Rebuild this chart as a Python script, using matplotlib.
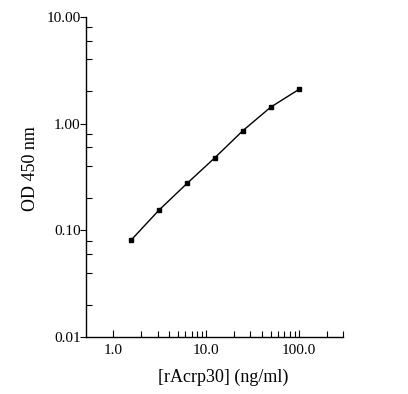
import matplotlib
matplotlib.use('Agg')
import matplotlib.pyplot as plt
from matplotlib.ticker import FixedLocator, FixedFormatter, NullFormatter
import numpy as np

# standard curve data
conc = [1.5625, 3.125, 6.25, 12.5, 25, 50, 100]   # ng/ml
od = [0.081, 0.155, 0.275, 0.48, 0.86, 1.43, 2.09]  # OD 450 nm

x_major = [1.0, 10.0, 100.0]
x_major_labels = ['1.0', '10.0', '100.0']
y_major = [0.01, 0.1, 1.0, 10.0]
y_major_labels = ['0.01', '0.10', '1.00', '10.00']

plt.rcParams['font.family'] = ['Liberation Serif', 'DejaVu Serif']

fig = plt.figure(figsize=(4.08, 3.94), dpi=100)
ax = fig.add_axes([0.211, 0.145, 0.630, 0.812])

ax.plot(conc, od, color='black', linewidth=1.0, marker='s', markersize=3.2,
        markerfacecolor='black', markeredgecolor='black')

ax.set_xscale('log')
ax.set_yscale('log')
ax.set_xlim(0.51, 300)
ax.set_ylim(0.01, 10)

ax.xaxis.set_major_locator(FixedLocator(x_major))
ax.xaxis.set_major_formatter(FixedFormatter(x_major_labels))
x_minor = [m * d for d in (1, 10, 100) for m in range(2, 10)]
x_minor = [v for v in x_minor if v <= 300]
ax.xaxis.set_minor_locator(FixedLocator(x_minor))
ax.xaxis.set_minor_formatter(NullFormatter())

ax.yaxis.set_major_locator(FixedLocator(y_major))
ax.yaxis.set_major_formatter(FixedFormatter(y_major_labels))
y_minor = [m * d for d in (0.01, 0.1, 1) for m in (2, 4, 6, 8)]
ax.yaxis.set_minor_locator(FixedLocator(y_minor))
ax.yaxis.set_minor_formatter(NullFormatter())

ax.tick_params(axis='x', which='major', direction='in', length=5, width=0.8,
               labelsize=11, pad=5)
ax.tick_params(axis='x', which='minor', direction='in', length=4, width=0.8)
ax.tick_params(axis='y', which='major', direction='out', length=4, width=0.8,
               labelsize=11, pad=0)
ax.tick_params(axis='y', which='minor', direction='in', length=4, width=0.8)

for s in ('top', 'right'):
    ax.spines[s].set_visible(False)
for s in ('left', 'bottom'):
    ax.spines[s].set_linewidth(1.0)

ax.set_xlabel('[rAcrp30] (ng/ml)', fontsize=13)
ax.set_ylabel('OD 450 nm', fontsize=13)
ax.xaxis.set_label_coords(0.535, -0.125)
ax.xaxis.label.set_va('center')
ax.yaxis.set_label_coords(-0.218, 0.527)
ax.yaxis.label.set_va('center')

fig.savefig('out.png', dpi=100, facecolor='white')
